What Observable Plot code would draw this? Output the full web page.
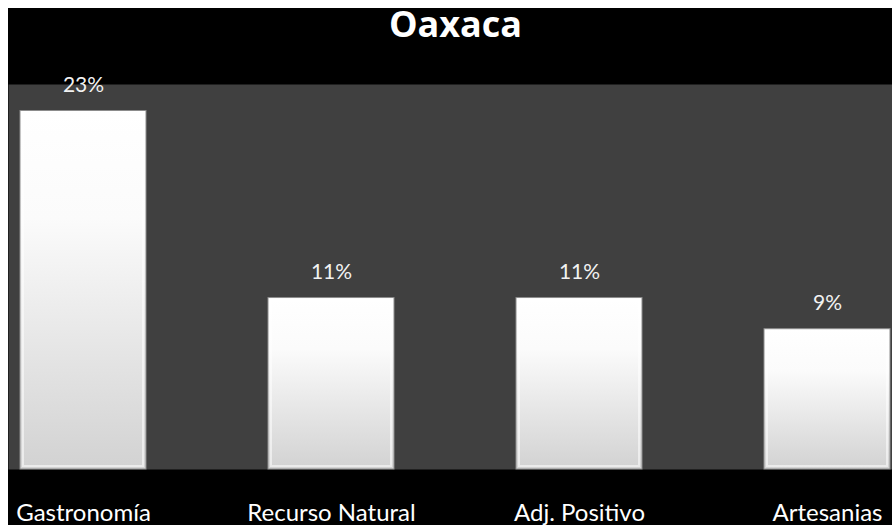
<!DOCTYPE html>
<html>
<head>
<meta charset="utf-8">
<script src="https://cdn.jsdelivr.net/npm/d3@7"></script>
<script src="https://cdn.jsdelivr.net/npm/@observablehq/plot@0.6"></script>
<style>
  html, body { background: #fff; overflow: hidden; }
  body { margin: 8px 0 0 8px; padding: 0; }
  svg { overflow: visible; display: block; }
</style>
</head>
<body>
<div id="chart"></div>
<script>
const title = "Oaxaca";
const categories = ["Gastronomía", "Recurso Natural", "Adj. Positivo", "Artesanias"];
const values = [23, 11, 11, 9];
const valueLabels = ["23%", "11%", "11%", "9%"];

const data = categories.map((c, i) => ({category: c, value: values[i], label: valueLabels[i]}));

const font = "Lato, 'Open Sans', sans-serif";

const chart = Plot.plot({
  width: 884,
  height: 517,
  marginTop: 76,
  marginBottom: 56,
  marginLeft: 0,
  marginRight: 0,
  style: {background: "#000", fontFamily: font, overflow: "visible"},
  x: {domain: categories, range: [-50.9, 944.4], paddingInner: 0.49, paddingOuter: 0.245, axis: null},
  y: {domain: [0, 24.7], axis: null},
  marks: [
    Plot.frame({fill: "#404040", stroke: null}),
    Plot.barY(data, {x: "category", y: "value", fill: "url(#barGrad)", stroke: "#8c8c8c", strokeWidth: 1}),
    Plot.barY(data, {x: "category", y: "value", fill: "none", stroke: "#ffffff", strokeOpacity: 0.55, strokeWidth: 2, insetLeft: 3, insetRight: 3, insetTop: 3, insetBottom: 3}),
    Plot.text(data, {x: "category", y: "value", text: "label", dy: -25.5, lineAnchor: "middle", fill: "#f2f2f2", fontSize: 21}),
    Plot.text(data, {x: "category", text: "category", frameAnchor: "bottom", dy: 44, lineAnchor: "middle", fill: "#ffffff", fontSize: 24}),
    Plot.text([title], {text: d => d, frameAnchor: "top", dx: 5, dy: -59, lineAnchor: "middle", fill: "#ffffff", fontSize: 36, fontWeight: "bold", fontFamily: "'Open Sans', Lato, sans-serif"})
  ]
});

const defs = d3.create("svg:defs");
const grad = defs.append("linearGradient").attr("id", "barGrad").attr("x1", 0).attr("y1", 0).attr("x2", 0).attr("y2", 1);
grad.append("stop").attr("offset", "0%").attr("stop-color", "#ffffff");
grad.append("stop").attr("offset", "30%").attr("stop-color", "#fbfbfb");
grad.append("stop").attr("offset", "100%").attr("stop-color", "#d2d2d2");
chart.insertBefore(defs.node(), chart.firstChild);

document.getElementById("chart").appendChild(chart);
</script>
</body>
</html>
